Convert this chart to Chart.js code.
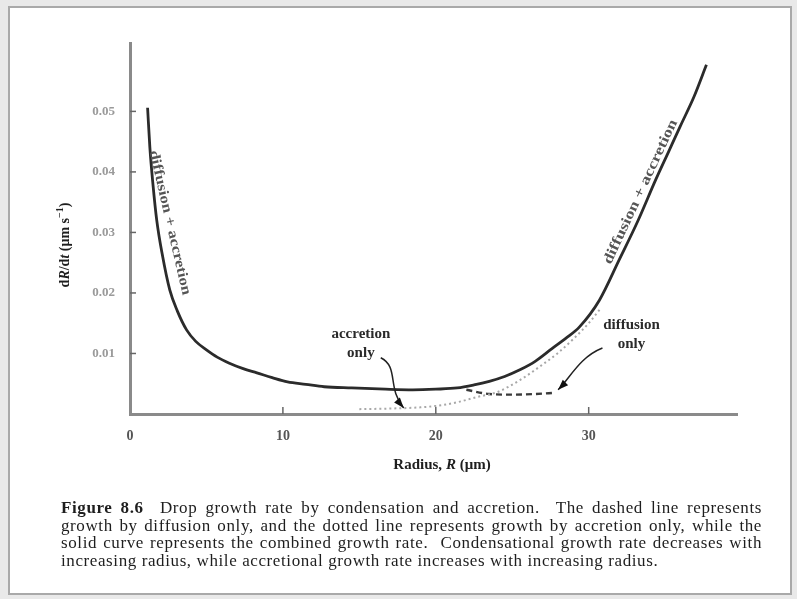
<!DOCTYPE html>
<html>
<head>
<meta charset="utf-8">
<script src="https://cdn.jsdelivr.net/npm/chart.js@4.4.1/dist/chart.umd.min.js"></script>
<style>
  html, body { margin: 0; padding: 0; background: #e9e9e9; }
  #frame { position: absolute; left: 8px; top: 6px; width: 780px; height: 585px;
           border: 2px solid #a9a9a9; background: #fff; }
  #wrap { position: absolute; left: 0; top: 0; width: 797px; height: 599px; }
  .txt { position: absolute; font-family: "Liberation Serif", "DejaVu Serif", serif; color: #1e1e1e; }
  #xtitle { left: 342px; top: 456px; width: 200px; text-align: center; font-size: 15px; font-weight: bold; }
  #ytitle { left: 3px; top: 236px; width: 120px; text-align: center; font-size: 14px; font-weight: bold;
            transform: rotate(-90deg); transform-origin: 60px 9px; }
  #caption { left: 61px; top: 499px; width: 701px; font-size: 17px; line-height: 17.6px; letter-spacing: 0.6px; }
  #caption span { display: block; text-align: justify; text-align-last: justify; white-space: nowrap; }
  #caption span.last { text-align-last: left; }
</style>
</head>
<body>
<div id="frame"></div>
<div id="wrap"><canvas id="myChart" width="797" height="599"></canvas></div>
<div class="txt" id="xtitle">Radius, <i>R</i> (μm)</div>
<div class="txt" id="ytitle">d<i>R</i>/d<i>t</i> (μm s<sup style="font-size:10px">−1</sup>)</div>
<div class="txt" id="caption">
  <span><b>Figure 8.6</b>&nbsp; Drop growth rate by condensation and accretion.&nbsp; The dashed line represents</span>
  <span>growth by diffusion only, and the dotted line represents growth by accretion only, while the</span>
  <span>solid curve represents the combined growth rate.&nbsp; Condensational growth rate decreases with</span>
  <span class="last">increasing radius, while accretional growth rate increases with increasing radius.</span>
</div>
<script>
// combined growth rate (solid curve)
const solidR = [1.15, 1.3, 1.5, 1.75, 2.1, 2.6, 3.1, 3.7, 4.3, 5.0, 5.7, 6.5, 7.4, 8.3, 9.3, 10.3, 11.5, 12.7, 14.5, 16.7, 18.5, 20, 21.4, 22.5, 23.5, 24.5, 25.5, 26.5, 27.6, 28.5, 29.4, 30.7, 32.0, 33.2, 34.4, 35.2, 36.0, 36.9, 37.7];
const solidRate = [0.0506, 0.0440, 0.0380, 0.0320, 0.0265, 0.0205, 0.0170, 0.0139, 0.0120, 0.0106, 0.0094, 0.0084, 0.0075, 0.0068, 0.0060, 0.0053, 0.0049, 0.0045, 0.0043, 0.0041, 0.0040, 0.0041, 0.0043, 0.0048, 0.0054, 0.0062, 0.0073, 0.0087, 0.0108, 0.0125, 0.0144, 0.0188, 0.0255, 0.0318, 0.0388, 0.0432, 0.0476, 0.0525, 0.0577];

// accretion only (dotted)
const accretionR = [15, 17, 19, 20.5, 21.5, 22.7, 24, 25.5, 27, 28, 29, 30, 30.8];
const accretionRate = [0.0008, 0.0009, 0.0011, 0.0015, 0.0020, 0.0028, 0.0036, 0.0056, 0.0082, 0.0101, 0.0124, 0.0150, 0.0175];

// diffusion only (dashed)
const diffusionR = [22, 23.5, 25, 26.5, 27.8];
const diffusionRate = [0.0040, 0.0033, 0.0032, 0.0033, 0.0035];

const xTickValues = [0, 10, 20, 30];
const yTickValues = [0.01, 0.02, 0.03, 0.04, 0.05];
const yTickLabels = ['0.01', '0.02', '0.03', '0.04', '0.05'];

// annotations (data coordinates)
const notes = [
  { lines: ['accretion', 'only'], r: 15.1, v: 0.0132 },
  { lines: ['diffusion', 'only'], r: 32.8, v: 0.0147 }
];
const arrows = [
  [[16.4, 0.0093], [17.6, 0.0078], [16.8, 0.0043], [17.9, 0.0010]],
  [[30.9, 0.0109], [29.4, 0.0094], [28.8, 0.0060], [28.0, 0.0040]]
];
const curveLabels = [
  { text: 'diffusion + accretion', r: 2.6, v: 0.0316, angle: 77, len: 148 },
  { text: 'diffusion + accretion', r: 33.4, v: 0.0367, angle: -65, len: 158 }
];

function pts(xs, ys) {
  return xs.map((x, i) => ({ x: x, y: ys[i] }));
}

const annotate = {
  id: 'annotate',
  afterDraw(chart) {
    const ctx = chart.ctx;
    const x = chart.scales.x, y = chart.scales.y;
    ctx.save();
    // inward tick marks
    ctx.strokeStyle = '#666';
    ctx.lineWidth = 1.5;
    xTickValues.slice(1).forEach(v => {
      const px = x.getPixelForValue(v);
      ctx.beginPath(); ctx.moveTo(px, y.bottom); ctx.lineTo(px, y.bottom - 7); ctx.stroke();
    });
    yTickValues.forEach(v => {
      const py = y.getPixelForValue(v);
      ctx.beginPath(); ctx.moveTo(x.left, py); ctx.lineTo(x.left + 6, py); ctx.stroke();
    });

    // text notes
    ctx.fillStyle = '#2a2a2a';
    ctx.font = 'bold 15px "Liberation Serif"';
    ctx.textAlign = 'center';
    ctx.textBaseline = 'middle';
    notes.forEach(n => {
      const px = x.getPixelForValue(n.r), py = y.getPixelForValue(n.v);
      n.lines.forEach((s, i) => ctx.fillText(s, px, py + i * 19));
    });

    // arrows
    ctx.strokeStyle = '#222';
    ctx.lineWidth = 1.5;
    arrows.forEach(a => {
      const p = a.map(q => [x.getPixelForValue(q[0]), y.getPixelForValue(q[1])]);
      ctx.beginPath();
      ctx.moveTo(p[0][0], p[0][1]);
      ctx.bezierCurveTo(p[1][0], p[1][1], p[2][0], p[2][1], p[3][0], p[3][1]);
      ctx.stroke();
      const ang = Math.atan2(p[3][1] - p[2][1], p[3][0] - p[2][0]);
      ctx.beginPath();
      ctx.moveTo(p[3][0], p[3][1]);
      ctx.lineTo(p[3][0] - 11 * Math.cos(ang - 0.35), p[3][1] - 11 * Math.sin(ang - 0.35));
      ctx.lineTo(p[3][0] - 11 * Math.cos(ang + 0.35), p[3][1] - 11 * Math.sin(ang + 0.35));
      ctx.closePath();
      ctx.fillStyle = '#111';
      ctx.fill();
    });

    // labels along the curve
    ctx.fillStyle = '#555';
    ctx.font = 'bold 13px "Liberation Serif"';
    curveLabels.forEach(c => {
      const px = x.getPixelForValue(c.r), py = y.getPixelForValue(c.v);
      const w = ctx.measureText(c.text).width;
      ctx.save();
      ctx.translate(px, py);
      ctx.rotate(c.angle * Math.PI / 180);
      ctx.scale(c.len / w, 1.1);
      ctx.fillText(c.text, 0, 0);
      ctx.restore();
    });
    ctx.restore();
  }
};

const ctx = document.getElementById('myChart').getContext('2d');
const myChart = new Chart(ctx, {
  type: 'line',
  data: {
    datasets: [
      {
        label: 'combined',
        data: pts(solidR, solidRate),
        borderColor: '#2b2b2b',
        borderWidth: 2.8,
        pointRadius: 0,
        cubicInterpolationMode: 'monotone'
      },
      {
        label: 'accretion only',
        data: pts(accretionR, accretionRate),
        borderColor: '#a8a8a8',
        borderWidth: 2,
        borderDash: [2, 3],
        pointRadius: 0,
        cubicInterpolationMode: 'monotone'
      },
      {
        label: 'diffusion only',
        data: pts(diffusionR, diffusionRate),
        borderColor: '#3a3a3a',
        borderWidth: 2.4,
        borderDash: [6, 4],
        pointRadius: 0,
        cubicInterpolationMode: 'monotone'
      }
    ]
  },
  options: {
    responsive: false,
    animation: false,
    layout: { padding: { top: 43, right: 60, bottom: 0, left: 0 } },
    plugins: { legend: { display: false }, tooltip: { enabled: false } },
    scales: {
      x: {
        type: 'linear',
        min: 0,
        max: 39.7,
        afterFit: s => { s.height = 185; },
        afterBuildTicks: s => { s.ticks = xTickValues.map(v => ({ value: v })); },
        grid: { display: false },
        border: { display: true, color: '#8a8a8a', width: 3 },
        ticks: {
          padding: 6,
          color: '#555',
          font: { family: 'Liberation Serif', size: 14, weight: 'bold' },
          maxRotation: 0,
          callback: v => String(v)
        }
      },
      y: {
        type: 'linear',
        min: 0,
        max: 0.0613,
        afterFit: s => { s.width = 130; },
        afterBuildTicks: s => { s.ticks = yTickValues.map(v => ({ value: v })); },
        grid: { display: false },
        border: { display: true, color: '#8a8a8a', width: 3 },
        ticks: {
          padding: 7,
          color: '#9a9a9a',
          font: { family: 'Liberation Serif', size: 13, weight: 'bold' },
          callback: (v) => yTickLabels[yTickValues.indexOf(v)]
        }
      }
    }
  },
  plugins: [annotate]
});
</script>
</body>
</html>
